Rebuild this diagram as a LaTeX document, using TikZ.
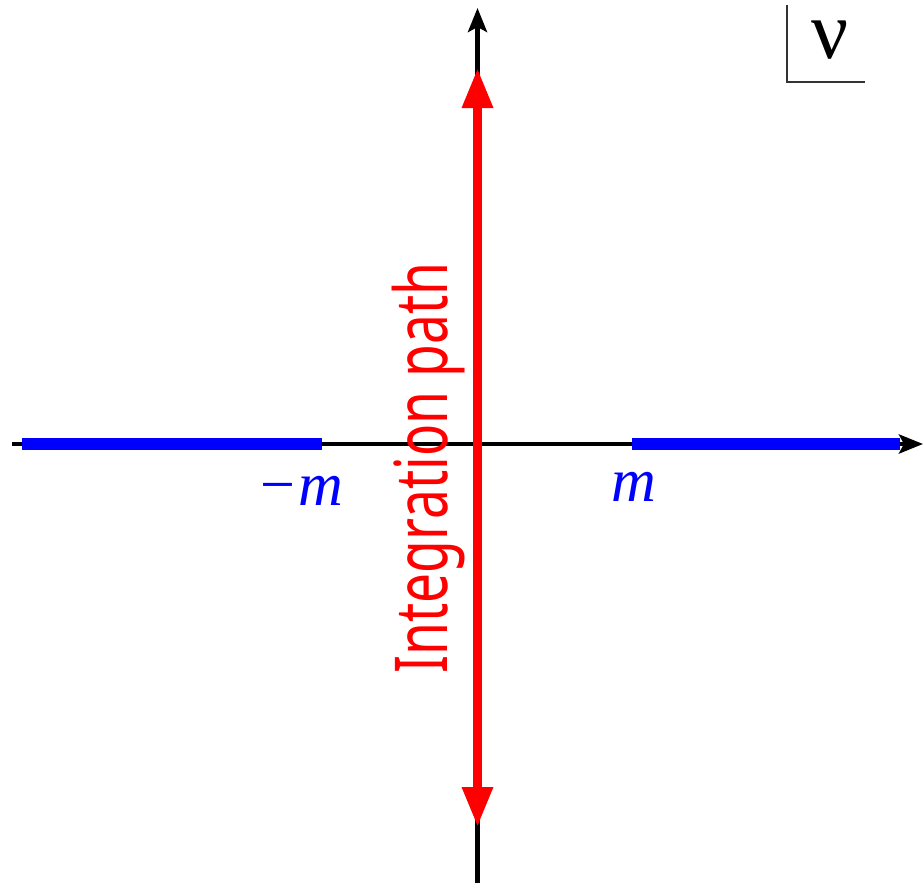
\documentclass[tikz,border=0pt]{standalone}
\usepackage{fontspec}
\usepackage{tikz}
\usetikzlibrary{arrows.meta, positioning}

\newfontfamily\pathfont[FakeStretch=0.73]{Noto Sans}
\newfontfamily\labelfont{Liberation Serif}

\begin{document}
\begin{tikzpicture}[
    x=1pt, y=-1pt,
    axis/.style={line width=4.5pt, -{Stealth[length=24pt, width=19pt, inset=5pt]}},
    cut/.style={blue, line width=12pt},
    contour/.style={red, line width=9pt,
        {Triangle[length=40pt, width=29pt]}-{Triangle[length=40pt, width=29pt]}},
    cutlabel/.style={blue, anchor=base, inner sep=0pt,
        font=\labelfont\itshape\fontsize{62}{62}\selectfont},
    every node/.style={inner sep=0pt}
]
    \useasboundingbox (0,0) rectangle (923,883);

    % Axes
    \coordinate (west) at (12,444);
    \coordinate (east) at (923,444);
    \coordinate (south) at (477.5,883);
    \coordinate (north) at (477.5,8);
    \draw[axis] (west) -- (east);
    \draw[axis] (south) -- (north);

    % Branch cuts
    \coordinate (cutLa) at (22,444);
    \coordinate (cutLb) at (322,444);
    \coordinate (cutRa) at (632,444);
    \coordinate (cutRb) at (900,444);
    \draw[cut] (cutLa) -- (cutLb);
    \draw[cut] (cutRa) -- (cutRb);

    \node[cutlabel] (mneg) at (300,505) {−m};
    \node[cutlabel] (mpos) at (634,501) {m};

    % Integration contour
    \coordinate (pathbot) at (477.5,827);
    \coordinate (pathtop) at (477.5,68);
    \draw[contour] (pathbot) -- (pathtop);
    \node[red, rotate=90, anchor=base, font=\pathfont\fontsize{73}{73}\selectfont]
        (pathlabel) at (447,468) {Integration path};

    % Variable box
    \node[anchor=base, text height=42pt, text depth=0pt,
        font=\labelfont\fontsize{82}{82}\selectfont] (nu) at (830,59) {ν};
    \coordinate (boxtop) at (787,5);
    \coordinate (boxcorner) at (787,82);
    \coordinate (boxend) at (865,82);
    \draw[line width=1.5pt, black!80] (boxtop) -- (boxcorner) -- (boxend);

\end{tikzpicture}
\end{document}
